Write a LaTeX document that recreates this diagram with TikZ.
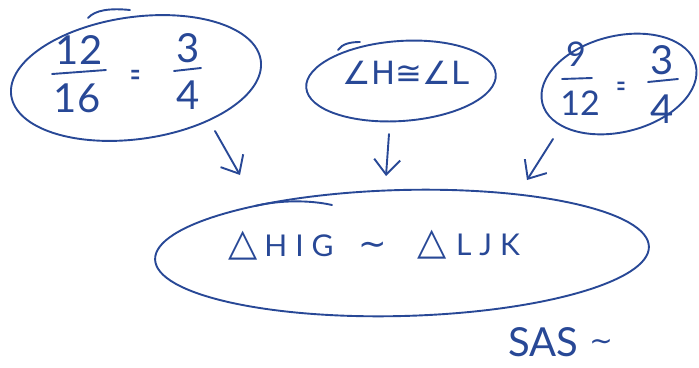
\documentclass[tikz,border=0pt]{standalone}
\usepackage{fontspec}
\setmainfont{Lato}
\newfontfamily\symfont{DejaVu Sans}
\usetikzlibrary{shapes.geometric,arrows.meta}
\definecolor{ink}{RGB}{40,72,150}
\begin{document}
\begin{tikzpicture}[x=1pt,y=-1pt,
  pen/.style={draw=ink, line width=1.9pt, line cap=round, line join=round},
  bubble/.style={pen, ellipse, inner sep=0pt},
  hand/.style={text=ink, inner sep=0pt, font=\fontsize{#1}{#1}\selectfont},
  hand/.default=40,
  sym/.style={text=ink, inner sep=0pt, font=\symfont\fontsize{#1}{#1}\selectfont},
  sym/.default=30,
  flow/.style={pen, -{Straight Barb[length=15pt,width=26pt,line width=1.9pt]}}]
\useasboundingbox (0,0) rectangle (699,367);

% ---- the three given facts ----
\node[bubble, minimum width=252pt, minimum height=122pt, rotate=8] (ratioA) at (136,78) {};
\node[bubble, minimum width=190pt, minimum height=80pt, rotate=4] (angle) at (401,81) {};
\node[bubble, minimum width=158pt, minimum height=96pt, rotate=14] (ratioB) at (619,84) {};

% pen start-marks on the bubbles
\draw[pen] (88,18) .. controls (95,10) and (110,8) .. (130,10);
\draw[pen] (338,50) .. controls (342,44) and (350,42) .. (360,42);

% 12/16 = 3/4
\node[hand] (nA1) at (79,50) {12};
\draw[pen] (52,74) -- (106,70);
\node[hand] (dA1) at (77,98) {16};
\node[hand=40, xscale=0.45] (eqA) at (136,79) {=};
\node[hand] (nA2) at (188,48) {3};
\draw[pen] (174,71) -- (201,68);
\node[hand] (dA2) at (188,95) {4};

% angle H congruent to angle L
\node[sym=32] (angtext) at (406,73) {∠H≅∠L};

% 9/12 = 3/4
\node[hand=34] (nB1) at (576,54) {9};
\draw[pen] (562,79) -- (592,78);
\node[hand=34] (dB1) at (580,103) {12};
\node[hand=36, xscale=0.45] (eqB) at (621,90) {=};
\node[hand] (nB2) at (662,60) {3};
\draw[pen] (648,82) -- (678,79);
\node[hand] (dB2) at (662,109) {4};

% ---- the conclusion ----
\node[bubble, minimum width=494pt, minimum height=126pt, rotate=1.5] (similar) at (402,253) {};
\draw[pen] (255,206) .. controls (280,200) and (310,200) .. (332,205);

\node[sym=38] (triA) at (243,246) {△};
\node[hand=30] (letA) at (299,246) {H\hspace{8pt}I\hspace{8pt}G};
\node[sym=34] (simT) at (373,249) {∼};
\node[sym=38] (triB) at (432,245) {△};
\node[hand=30] (letB) at (488,245) {L\hspace{8pt}J\hspace{8pt}K};

% ---- arrows from each fact to the conclusion ----
\coordinate (fromA) at (215,131);
\coordinate (toA) at (240,175);
\coordinate (fromM) at (389,134);
\coordinate (toM) at (386,176);
\coordinate (fromB) at (553,139);
\coordinate (toB) at (527,180);
\draw[flow] (fromA) -- (toA);
\draw[flow] (fromM) -- (toM);
\draw[flow] (fromB) -- (toB);

% reason
\node[hand=40] (reason) at (543,342) {SAS};
\node[sym=28] (reasonsim) at (601,345) {∼};
\end{tikzpicture}
\end{document}
